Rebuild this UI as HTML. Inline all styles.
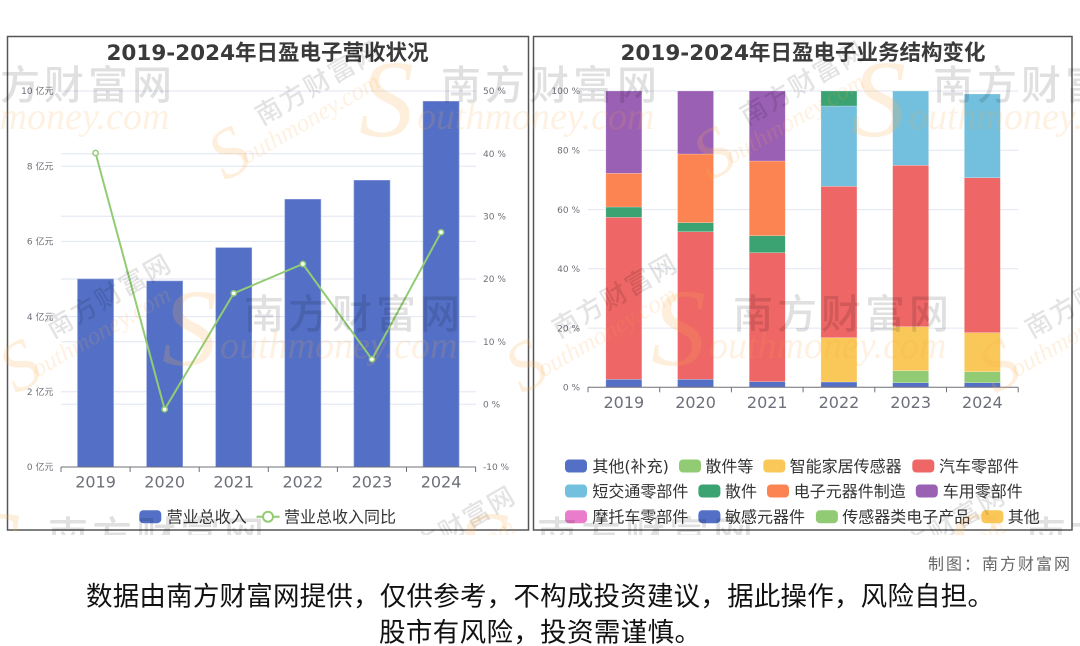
<!DOCTYPE html>
<html>
<head>
<meta charset="utf-8">
<style>
html,body{margin:0;padding:0;background:#fff;}
body{width:1080px;height:646px;overflow:hidden;}
svg{display:block;}
.t{font-family:"DejaVu Sans","Noto Sans CJK SC",sans-serif;font-weight:bold;font-size:21.5px;fill:#3a3a3a;}
.ax{font-family:"DejaVu Sans","Noto Sans CJK SC",sans-serif;font-size:9px;fill:#6e7079;}
.xl{font-family:"DejaVu Sans","Noto Sans CJK SC",sans-serif;font-size:16px;fill:#6e7079;}
.lg{font-family:"DejaVu Sans","Noto Sans CJK SC",sans-serif;font-size:16px;fill:#333;}
.wG{font-family:"Noto Sans CJK SC",sans-serif;font-size:40px;letter-spacing:4px;fill:rgba(0,0,0,0.12);font-weight:500;}
.wO{font-family:"Liberation Serif",serif;font-style:italic;font-size:38px;fill:rgba(250,170,70,0.16);}
.wS{font-family:"Liberation Serif",serif;font-style:italic;font-size:110px;fill:rgba(252,175,80,0.20);}
.wG2{font-family:"Noto Sans CJK SC",sans-serif;font-size:26px;letter-spacing:2px;fill:rgba(0,0,0,0.11);font-weight:500;}
.wO2{font-family:"Liberation Serif",serif;font-style:italic;font-size:25px;fill:rgba(250,170,70,0.16);}
.wS2{font-family:"Liberation Serif",serif;font-style:italic;font-size:70px;fill:rgba(252,175,80,0.20);}
.ft{font-family:"Liberation Sans","Noto Sans CJK SC",sans-serif;font-size:16px;letter-spacing:2px;fill:#666;}
.dc{font-family:"Liberation Sans","Noto Sans CJK SC",sans-serif;font-size:26.5px;fill:#111;}
</style>
</head>
<body>
<svg width="1080" height="646" viewBox="0 0 1080 646" xmlns="http://www.w3.org/2000/svg">
<defs>
<clipPath id="wmclip"><rect x="0" y="0" width="1080" height="535"/></clipPath>
</defs>

<!-- ================= LEFT CHART ================= -->
<rect x="7.5" y="36.5" width="521" height="493.5" fill="#fff" stroke="#555" stroke-width="1.5"/>
<text class="t" x="267.5" y="60" text-anchor="middle">2019-2024年日盈电子营收状况</text>

<g stroke="#e0e6f1" stroke-width="1">
<line x1="61" x2="476" y1="91" y2="91"/>
<line x1="61" x2="476" y1="166.2" y2="166.2"/>
<line x1="61" x2="476" y1="241.4" y2="241.4"/>
<line x1="61" x2="476" y1="316.6" y2="316.6"/>
<line x1="61" x2="476" y1="391.8" y2="391.8"/>
<line x1="61" x2="476" y1="153.7" y2="153.7"/>
<line x1="61" x2="476" y1="216.3" y2="216.3"/>
<line x1="61" x2="476" y1="279" y2="279"/>
<line x1="61" x2="476" y1="341.7" y2="341.7"/>
<line x1="61" x2="476" y1="404.3" y2="404.3"/>
</g>

<g class="ax" text-anchor="end">
<text x="53.5" y="94.2">10 亿元</text>
<text x="53.5" y="169.4">8 亿元</text>
<text x="53.5" y="244.6">6 亿元</text>
<text x="53.5" y="319.8">4 亿元</text>
<text x="53.5" y="395">2 亿元</text>
<text x="53.5" y="470.2">0 亿元</text>
</g>
<g class="ax">
<text x="483" y="94.2">50 %</text>
<text x="483" y="156.9">40 %</text>
<text x="483" y="219.5">30 %</text>
<text x="483" y="282.2">20 %</text>
<text x="483" y="344.9">10 %</text>
<text x="483" y="407.5">0 %</text>
<text x="483" y="470.2">-10 %</text>
</g>

<g fill="#5470c6" stroke="#8da0dc" stroke-width="0.6">
<rect x="77.55" y="279" width="36" height="188"/>
<rect x="146.65" y="281" width="36" height="186"/>
<rect x="215.75" y="247.7" width="36" height="219.3"/>
<rect x="284.85" y="199.3" width="36" height="267.7"/>
<rect x="353.95" y="180.3" width="36" height="286.7"/>
<rect x="423.05" y="101.3" width="36" height="365.7"/>
</g>

<line x1="61" x2="476" y1="467" y2="467" stroke="#6e7079" stroke-width="1"/>
<g stroke="#6e7079" stroke-width="1">
<line x1="61" x2="61" y1="467" y2="472"/>
<line x1="130.1" x2="130.1" y1="467" y2="472"/>
<line x1="199.2" x2="199.2" y1="467" y2="472"/>
<line x1="268.3" x2="268.3" y1="467" y2="472"/>
<line x1="337.4" x2="337.4" y1="467" y2="472"/>
<line x1="406.5" x2="406.5" y1="467" y2="472"/>
<line x1="475.6" x2="475.6" y1="467" y2="472"/>
</g>
<g class="xl" text-anchor="middle">
<text x="95.55" y="487.5">2019</text>
<text x="164.65" y="487.5">2020</text>
<text x="233.75" y="487.5">2021</text>
<text x="302.85" y="487.5">2022</text>
<text x="371.95" y="487.5">2023</text>
<text x="441.05" y="487.5">2024</text>
</g>

<polyline points="95.55,153 164.65,409.3 233.75,293.3 302.85,264 371.95,359.3 441.05,232.3" fill="none" stroke="#91cc75" stroke-width="2"/>
<g fill="#fff" stroke="#91cc75" stroke-width="1.5">
<circle cx="95.55" cy="153" r="2.6"/>
<circle cx="164.65" cy="409.3" r="2.6"/>
<circle cx="233.75" cy="293.3" r="2.6"/>
<circle cx="302.85" cy="264" r="2.6"/>
<circle cx="371.95" cy="359.3" r="2.6"/>
<circle cx="441.05" cy="232.3" r="2.6"/>
</g>

<rect x="139.3" y="510.2" width="22" height="13" rx="4" fill="#5470c6"/>
<text class="lg" x="166.7" y="522.7">营业总收入</text>
<line x1="256.5" x2="279.6" y1="516.7" y2="516.7" stroke="#91cc75" stroke-width="2"/>
<circle cx="268" cy="516.7" r="5" fill="#fff" stroke="#91cc75" stroke-width="2"/>
<text class="lg" x="284" y="522.7">营业总收入同比</text>

<!-- ================= RIGHT CHART ================= -->
<rect x="533.5" y="36.5" width="538.5" height="493.5" fill="#fff" stroke="#555" stroke-width="1.5"/>
<text class="t" x="803" y="60" text-anchor="middle">2019-2024年日盈电子业务结构变化</text>

<g stroke="#e0e6f1" stroke-width="1">
<line x1="588" x2="1018" y1="91" y2="91"/>
<line x1="588" x2="1018" y1="150.3" y2="150.3"/>
<line x1="588" x2="1018" y1="209.6" y2="209.6"/>
<line x1="588" x2="1018" y1="268.8" y2="268.8"/>
<line x1="588" x2="1018" y1="328.1" y2="328.1"/>
</g>
<g class="ax" text-anchor="end">
<text x="580" y="94.2">100 %</text>
<text x="580" y="153.5">80 %</text>
<text x="580" y="212.8">60 %</text>
<text x="580" y="272">40 %</text>
<text x="580" y="331.3">20 %</text>
<text x="580" y="390.5">0 %</text>
</g>

<g stroke="rgba(255,255,255,0.35)" stroke-width="0.6">
<rect x="605.85" y="379.3" width="36" height="8" fill="#5470c6"/>
<rect x="605.85" y="217.3" width="36" height="162" fill="#ee6666"/>
<rect x="605.85" y="207" width="36" height="10.3" fill="#3ba272"/>
<rect x="605.85" y="173.3" width="36" height="33.7" fill="#fc8452"/>
<rect x="605.85" y="91" width="36" height="82.3" fill="#9a60b4"/>
<rect x="677.55" y="379.3" width="36" height="8" fill="#5470c6"/>
<rect x="677.55" y="231.7" width="36" height="147.6" fill="#ee6666"/>
<rect x="677.55" y="222.7" width="36" height="9" fill="#3ba272"/>
<rect x="677.55" y="154" width="36" height="68.7" fill="#fc8452"/>
<rect x="677.55" y="91" width="36" height="63" fill="#9a60b4"/>
<rect x="749.25" y="381.7" width="36" height="5.6" fill="#5470c6"/>
<rect x="749.25" y="252.7" width="36" height="129" fill="#ee6666"/>
<rect x="749.25" y="235.7" width="36" height="17" fill="#3ba272"/>
<rect x="749.25" y="161" width="36" height="74.7" fill="#fc8452"/>
<rect x="749.25" y="91" width="36" height="70" fill="#9a60b4"/>
<rect x="820.95" y="382" width="36" height="5.3" fill="#5470c6"/>
<rect x="820.95" y="337.7" width="36" height="44.3" fill="#fac858"/>
<rect x="820.95" y="186.3" width="36" height="151.4" fill="#ee6666"/>
<rect x="820.95" y="106" width="36" height="80.3" fill="#73c0de"/>
<rect x="820.95" y="91" width="36" height="15" fill="#3ba272"/>
<rect x="892.65" y="382.7" width="36" height="4.6" fill="#5470c6"/>
<rect x="892.65" y="370.7" width="36" height="12" fill="#91cc75"/>
<rect x="892.65" y="326.7" width="36" height="44" fill="#fac858"/>
<rect x="892.65" y="165.3" width="36" height="161.4" fill="#ee6666"/>
<rect x="892.65" y="91" width="36" height="74.3" fill="#73c0de"/>
<rect x="964.35" y="382.7" width="36" height="4.6" fill="#5470c6"/>
<rect x="964.35" y="371.7" width="36" height="11" fill="#91cc75"/>
<rect x="964.35" y="332.7" width="36" height="39" fill="#fac858"/>
<rect x="964.35" y="177.7" width="36" height="155" fill="#ee6666"/>
<rect x="964.35" y="94" width="36" height="83.7" fill="#73c0de"/>
</g>

<line x1="588" x2="1018.2" y1="387.3" y2="387.3" stroke="#6e7079" stroke-width="1"/>
<g stroke="#6e7079" stroke-width="1">
<line x1="588" x2="588" y1="387.3" y2="392.3"/>
<line x1="659.7" x2="659.7" y1="387.3" y2="392.3"/>
<line x1="731.4" x2="731.4" y1="387.3" y2="392.3"/>
<line x1="803.1" x2="803.1" y1="387.3" y2="392.3"/>
<line x1="874.8" x2="874.8" y1="387.3" y2="392.3"/>
<line x1="946.5" x2="946.5" y1="387.3" y2="392.3"/>
<line x1="1018.2" x2="1018.2" y1="387.3" y2="392.3"/>
</g>
<g class="xl" text-anchor="middle">
<text x="623.85" y="408">2019</text>
<text x="695.55" y="408">2020</text>
<text x="767.25" y="408">2021</text>
<text x="838.95" y="408">2022</text>
<text x="910.65" y="408">2023</text>
<text x="982.35" y="408">2024</text>
</g>

<g>
<rect x="565" y="459.5" width="22" height="13" rx="4" fill="#5470c6"/>
<text class="lg" x="592.4" y="472">其他(补充)</text>
<rect x="679" y="459.5" width="22" height="13" rx="4" fill="#91cc75"/>
<text class="lg" x="705.4" y="472">散件等</text>
<rect x="763.3" y="459.5" width="22" height="13" rx="4" fill="#fac858"/>
<text class="lg" x="789.6" y="472">智能家居传感器</text>
<rect x="912.3" y="459.5" width="22" height="13" rx="4" fill="#ee6666"/>
<text class="lg" x="939" y="472">汽车零部件</text>

<rect x="565" y="484.5" width="22" height="13" rx="4" fill="#73c0de"/>
<text class="lg" x="592.4" y="497">短交通零部件</text>
<rect x="698.4" y="484.5" width="22" height="13" rx="4" fill="#3ba272"/>
<text class="lg" x="725" y="497">散件</text>
<rect x="767" y="484.5" width="22" height="13" rx="4" fill="#fc8452"/>
<text class="lg" x="793.8" y="497">电子元器件制造</text>
<rect x="915.8" y="484.5" width="22" height="13" rx="4" fill="#9a60b4"/>
<text class="lg" x="942.8" y="497">车用零部件</text>

<rect x="565" y="510.2" width="22" height="13" rx="4" fill="#ea7ccc"/>
<text class="lg" x="592.4" y="522.7">摩托车零部件</text>
<rect x="698.4" y="510.2" width="22" height="13" rx="4" fill="#5470c6"/>
<text class="lg" x="725" y="522.7">敏感元器件</text>
<rect x="815.9" y="510.2" width="22" height="13" rx="4" fill="#91cc75"/>
<text class="lg" x="842.2" y="522.7">传感器类电子产品</text>
<rect x="981.4" y="510.2" width="22" height="13" rx="4" fill="#fac858"/>
<text class="lg" x="1007.7" y="522.7">其他</text>
</g>

<!-- ================= WATERMARKS ================= -->
<g clip-path="url(#wmclip)">
<g transform="translate(-44,99)"><text class="wS" x="-82" y="37">S</text><text class="wG" x="0" y="0">南方财富网</text><text class="wO" x="-24" y="30">outhmoney.com</text></g>
<g transform="translate(441,99)"><text class="wS" x="-82" y="37">S</text><text class="wG" x="0" y="0">南方财富网</text><text class="wO" x="-24" y="30">outhmoney.com</text></g>
<g transform="translate(933,99)"><text class="wS" x="-82" y="37">S</text><text class="wG" x="0" y="0">南方财富网</text><text class="wO" x="-24" y="30">outhmoney.com</text></g>
<g transform="translate(244,328)"><text class="wS" x="-82" y="37">S</text><text class="wG" x="0" y="0">南方财富网</text><text class="wO" x="-24" y="30">outhmoney.com</text></g>
<g transform="translate(733,328)"><text class="wS" x="-82" y="37">S</text><text class="wG" x="0" y="0">南方财富网</text><text class="wO" x="-24" y="30">outhmoney.com</text></g>
<g transform="translate(48,550)"><text class="wS" x="-82" y="37">S</text><text class="wG" x="0" y="0">南方财富网</text><text class="wO" x="-24" y="30">outhmoney.com</text></g>
<g transform="translate(537,550)"><text class="wS" x="-82" y="37">S</text><text class="wG" x="0" y="0">南方财富网</text><text class="wO" x="-24" y="30">outhmoney.com</text></g>
<g transform="translate(1026,550)"><text class="wS" x="-82" y="37">S</text><text class="wG" x="0" y="0">南方财富网</text><text class="wO" x="-24" y="30">outhmoney.com</text></g>
<g transform="translate(305,110) rotate(-30)"><text class="wS2" x="-105" y="22">S</text><text class="wG2" x="-45" y="-8">南方财富网</text><text class="wO2" x="-78" y="18">outhmoney.com</text></g>
<g transform="translate(790,110) rotate(-30)"><text class="wS2" x="-105" y="22">S</text><text class="wG2" x="-45" y="-8">南方财富网</text><text class="wO2" x="-78" y="18">outhmoney.com</text></g>
<g transform="translate(96,323) rotate(-30)"><text class="wS2" x="-105" y="22">S</text><text class="wG2" x="-45" y="-8">南方财富网</text><text class="wO2" x="-78" y="18">outhmoney.com</text></g>
<g transform="translate(602,323) rotate(-30)"><text class="wS2" x="-105" y="22">S</text><text class="wG2" x="-45" y="-8">南方财富网</text><text class="wO2" x="-78" y="18">outhmoney.com</text></g>
<g transform="translate(1075,323) rotate(-30)"><text class="wS2" x="-105" y="22">S</text><text class="wG2" x="-45" y="-8">南方财富网</text><text class="wO2" x="-78" y="18">outhmoney.com</text></g>
<g transform="translate(440,555) rotate(-30)"><text class="wS2" x="-105" y="22">S</text><text class="wG2" x="-45" y="-8">南方财富网</text><text class="wO2" x="-78" y="18">outhmoney.com</text></g>
<g transform="translate(930,555) rotate(-30)"><text class="wS2" x="-105" y="22">S</text><text class="wG2" x="-45" y="-8">南方财富网</text><text class="wO2" x="-78" y="18">outhmoney.com</text></g>
</g>

<!-- ================= FOOTER ================= -->
<text class="ft" x="1072" y="569.3" text-anchor="end">制图：南方财富网</text>
<text class="dc" x="540" y="605.6" text-anchor="middle" textLength="908" lengthAdjust="spacing">数据由南方财富网提供，仅供参考，不构成投资建议，据此操作，风险自担。</text>
<text class="dc" x="540" y="641.3" text-anchor="middle" textLength="322" lengthAdjust="spacing">股市有风险，投资需谨慎。</text>
</svg>
</body>
</html>
